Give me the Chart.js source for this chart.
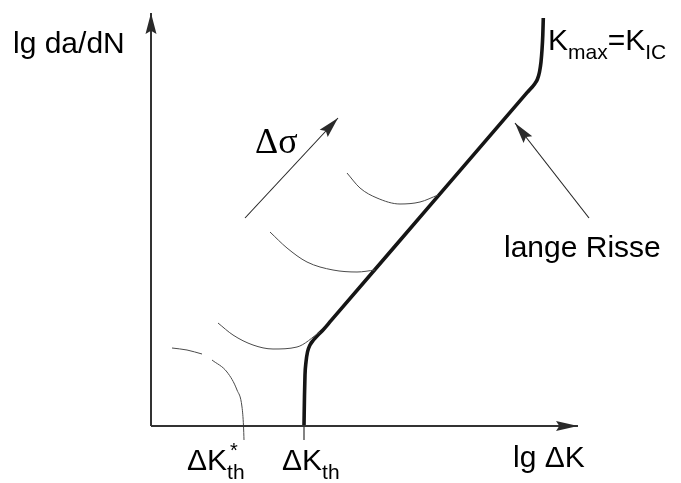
<!DOCTYPE html>
<html>
<head>
<meta charset="utf-8">
<title>da/dN - ΔK</title>
<script src="https://cdn.jsdelivr.net/npm/chart.js@4.4.0/dist/chart.umd.min.js"></script>
<style>
  html, body { margin: 0; padding: 0; background: #fff; }
  canvas { display: block; }
</style>
</head>
<body>
<canvas id="crackChart" width="681" height="483"></canvas>
<script>
(function () {
    "use strict";

    // plot units: x = lg dK, y = lg da/dN, origin at the axis corner
    var longCrack = [
        [153, 0], [153.5, 31], [154, 51], [155, 64], [156.5, 74], [159, 81],
        [162.5, 86], [167, 91], [172, 96], [180, 105.3], [278, 219.3],
        [376, 333.3], [384, 342.6], [386.5, 347], [388.5, 354], [390, 364],
        [391, 376], [391.8, 391], [392.3, 408]
    ];
    // short cracks, one curve per stress range (lowest first)
    var shortCrack1a = [[21, 78], [36, 76], [51, 72]];
    var shortCrack1b = [[61, 66], [76, 54], [86, 36], [91, 19], [92.5, 0], [93, -14]];
    var shortCrack2 = [[67, 103], [82, 91], [102, 81], [122, 77], [146, 79], [169, 94]];
    var shortCrack3 = [[119, 194], [136, 178], [156, 164], [182, 156], [206, 154], [224, 156]];
    var shortCrack4 = [[196, 253], [209, 238], [226, 228], [249, 222], [269, 224], [287, 231]];

    var xAxisLine = [[0, 0], [427, 0]];
    var yAxisLine = [[0, 0], [0, 413]];
    var thresholdTick = [[153, 0], [153, -14]];
    var stressArrow = [[94, 208], [187, 308]];
    var longCrackArrow = [[438, 208], [364, 303]];

    var xRange = [-151, 530];
    var yRange = [-57, 426];

    function pts(arr) {
        return arr.map(function (p) { return { x: p[0], y: p[1] }; });
    }

    function line(arr, color, width, extra) {
        var ds = {
            data: pts(arr),
            borderColor: color,
            borderWidth: width,
            pointRadius: 0,
            fill: false,
            tension: 0
        };
        for (var k in extra) ds[k] = extra[k];
        return ds;
    }

    var thin = '#4a4a4a';
    var smooth = { cubicInterpolationMode: 'monotone' };

    var sans = '"Liberation Sans", Arial, sans-serif';
    var serif = '"Liberation Serif", "Times New Roman", serif';

    // text labels: parts are drawn left to right, sub shifts the baseline
    var labels = [
        { x: -138, y: 373, parts: [{ t: 'lg da/dN' }] },
        { x: 353, y: 169, parts: [{ t: 'lange Risse' }] },
        { x: 362, y: -41, parts: [{ t: 'lg ΔK' }] },
        { x: 131, y: -44, parts: [{ t: 'ΔK' }, { t: 'th', sub: true }] },
        { x: 36, y: -44, parts: [{ t: 'ΔK' }, { t: 'th', sub: true }] },
        { x: 79, y: -31, parts: [{ t: '*', size: 20 }] },
        { x: 397, y: 376, parts: [{ t: 'K' }, { t: 'max', sub: true }, { t: '=K' }, { t: 'IC', sub: true }] },
        { x: 104, y: 273, parts: [{ t: 'Δσ', size: 36, font: serif }] }
    ];

    var overlay = {
        id: 'overlay',
        afterDatasetsDraw: function (chart) {
            var ctx = chart.ctx;
            var sx = chart.scales.x, sy = chart.scales.y;

            // arrow heads at the end of flagged lines
            chart.data.datasets.forEach(function (ds) {
                if (!ds.arrow) return;
                var n = ds.data.length;
                var a = ds.data[n - 2], b = ds.data[n - 1];
                var x1 = sx.getPixelForValue(a.x), y1 = sy.getPixelForValue(a.y);
                var x2 = sx.getPixelForValue(b.x), y2 = sy.getPixelForValue(b.y);
                var ang = Math.atan2(y2 - y1, x2 - x1);
                var len = ds.arrow[0], half = ds.arrow[1];
                ctx.save();
                ctx.translate(x2, y2);
                ctx.rotate(ang);
                ctx.beginPath();
                ctx.moveTo(0, 0);
                ctx.lineTo(-len, -half);
                ctx.lineTo(-len * 0.85, 0);
                ctx.lineTo(-len, half);
                ctx.closePath();
                ctx.fillStyle = '#2a2a2a';
                ctx.fill();
                ctx.restore();
            });

            ctx.save();
            ctx.fillStyle = '#000';
            ctx.textBaseline = 'alphabetic';
            ctx.textAlign = 'left';
            labels.forEach(function (lb) {
                var px = sx.getPixelForValue(lb.x);
                var py = sy.getPixelForValue(lb.y);
                lb.parts.forEach(function (p) {
                    var size = p.size || (p.sub ? 21 : 30);
                    ctx.font = size + 'px ' + (p.font || sans);
                    var dy = p.sub ? 9 : 0;
                    ctx.fillText(p.t, px, py + dy);
                    px += ctx.measureText(p.t).width;
                });
            });
            ctx.restore();
        }
    };

    var ctx = document.getElementById('crackChart');
    new Chart(ctx, {
        type: 'line',
        data: {
            datasets: [
                line(xAxisLine, '#333', 2, { arrow: [22, 5] }),
                line(yAxisLine, '#333', 2, { arrow: [21, 5.5] }),
                line(thresholdTick, '#333', 1.2),
                line(shortCrack1a, thin, 1, smooth),
                line(shortCrack1b, thin, 1, smooth),
                line(shortCrack2, thin, 1, smooth),
                line(shortCrack3, thin, 1, smooth),
                line(shortCrack4, thin, 1, smooth),
                line(longCrack, '#151515', 3.6, smooth),
                line(stressArrow, '#222', 1.1, { arrow: [21, 5.5] }),
                line(longCrackArrow, '#222', 1.1, { arrow: [21, 5.5] })
            ]
        },
        options: {
            responsive: false,
            animation: false,
            layout: { padding: 0 },
            scales: {
                x: { type: 'linear', min: xRange[0], max: xRange[1], display: false },
                y: { type: 'linear', min: yRange[0], max: yRange[1], display: false }
            },
            plugins: {
                legend: { display: false },
                tooltip: { enabled: false }
            }
        },
        plugins: [overlay]
    });
})();
</script>
</body>
</html>
